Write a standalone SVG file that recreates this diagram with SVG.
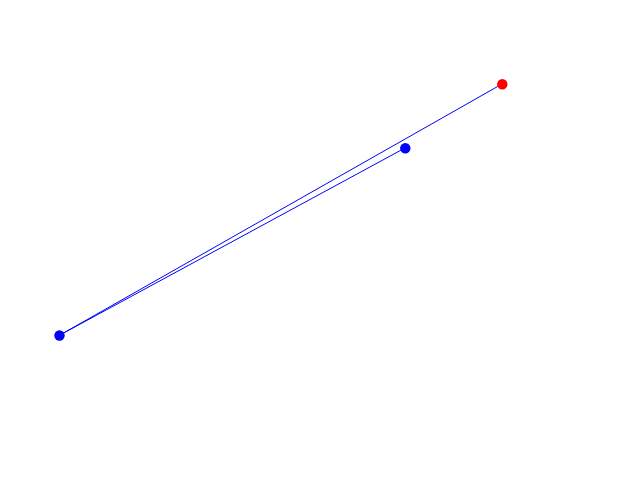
<svg xmlns="http://www.w3.org/2000/svg" width="640" height="480" viewBox="0 0 640 480">
<style>
.edge{stroke:#0000ff;stroke-width:1;fill:none}
</style>
<rect width="640" height="480" fill="#ffffff"/>
<g id="connectors">
<line class="edge" x1="60" y1="335" x2="502" y2="84"/>
<line class="edge" x1="60" y1="335" x2="405" y2="148"/>
</g>
<g id="node-red"><circle cx="502.3" cy="84.3" r="5.2" fill="#ff0000"/></g>
<g id="node-mid"><circle cx="405.3" cy="148.3" r="5.2" fill="#0000ff"/></g>
<g id="node-left"><circle cx="59.5" cy="335.5" r="5.2" fill="#0000ff"/></g>
</svg>
